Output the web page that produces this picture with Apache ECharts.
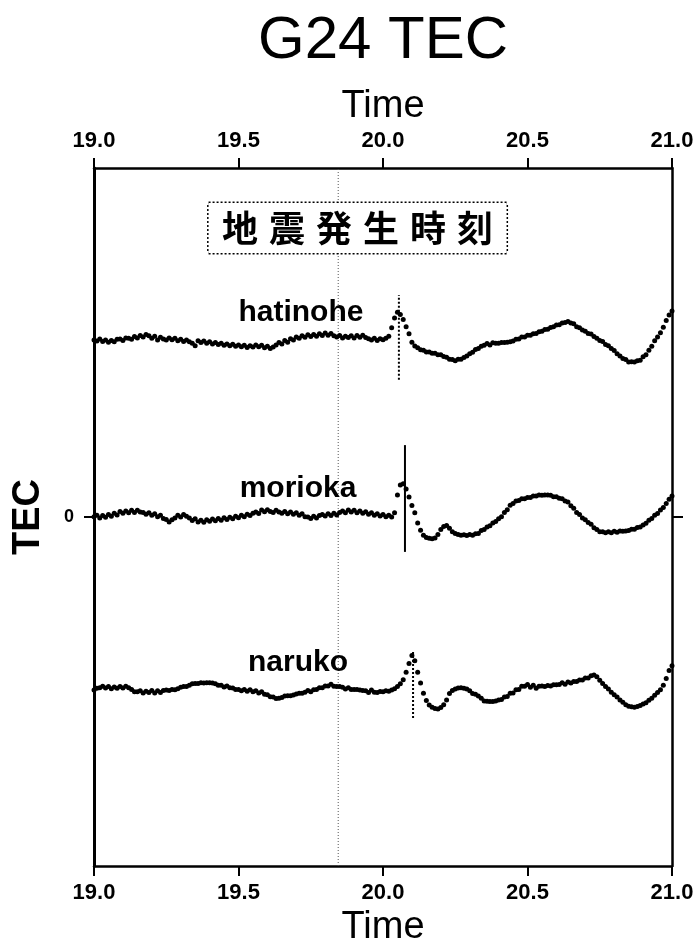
<!DOCTYPE html>
<html><head><meta charset="utf-8">
<script src="https://cdn.jsdelivr.net/npm/echarts@6/dist/echarts.min.js"></script>
<style>html,body{margin:0;padding:0;background:#fff}#c{width:697px;height:941px}</style>
</head><body><div id="c"></div>
<script>
const times = [
19.00,19.01,19.02,19.03,19.04,19.05,19.06,19.07,19.08,19.09,
19.10,19.11,19.12,19.13,19.14,19.15,19.16,19.17,19.18,19.19,
19.20,19.21,19.22,19.23,19.24,19.25,19.26,19.27,19.28,19.29,
19.30,19.31,19.32,19.33,19.34,19.35,19.36,19.37,19.38,19.39,
19.40,19.41,19.42,19.43,19.44,19.45,19.46,19.47,19.48,19.49,
19.50,19.51,19.52,19.53,19.54,19.55,19.56,19.57,19.58,19.59,
19.60,19.61,19.62,19.63,19.64,19.65,19.66,19.67,19.68,19.69,
19.70,19.71,19.72,19.73,19.74,19.75,19.76,19.77,19.78,19.79,
19.80,19.81,19.82,19.83,19.84,19.85,19.86,19.87,19.88,19.89,
19.90,19.91,19.92,19.93,19.94,19.95,19.96,19.97,19.98,19.99,
20.00,20.01,20.02,20.03,20.04,20.05,20.06,20.07,20.08,20.09,
20.10,20.11,20.12,20.13,20.14,20.15,20.16,20.17,20.18,20.19,
20.20,20.21,20.22,20.23,20.24,20.25,20.26,20.27,20.28,20.29,
20.30,20.31,20.32,20.33,20.34,20.35,20.36,20.37,20.38,20.39,
20.40,20.41,20.42,20.43,20.44,20.45,20.46,20.47,20.48,20.49,
20.50,20.51,20.52,20.53,20.54,20.55,20.56,20.57,20.58,20.59,
20.60,20.61,20.62,20.63,20.64,20.65,20.66,20.67,20.68,20.69,
20.70,20.71,20.72,20.73,20.74,20.75,20.76,20.77,20.78,20.79,
20.80,20.81,20.82,20.83,20.84,20.85,20.86,20.87,20.88,20.89,
20.90,20.91,20.92,20.93,20.94,20.95,20.96,20.97,20.98,20.99,
21.00];

const hatinohe = [
5.07,5.04,5.10,5.03,5.07,5.01,5.06,5.02,5.09,5.10,
5.06,5.13,5.12,5.09,5.17,5.13,5.20,5.16,5.23,5.19,
5.12,5.18,5.07,5.15,5.10,5.07,5.13,5.08,5.12,5.05,
5.09,5.03,5.07,5.02,4.98,4.91,5.05,5.00,5.04,4.98,
5.02,4.96,5.00,4.94,4.98,4.92,4.96,4.91,4.95,4.89,
4.93,4.88,4.92,4.86,4.91,4.87,4.93,4.88,4.92,4.85,
4.89,4.83,4.87,4.93,5.00,4.96,5.06,5.01,5.11,5.07,
5.16,5.12,5.19,5.15,5.22,5.17,5.23,5.18,5.25,5.20,
5.27,5.21,5.26,5.19,5.16,5.20,5.13,5.18,5.14,5.19,
5.13,5.20,5.15,5.21,5.14,5.11,5.07,5.12,5.06,5.11,
5.08,5.12,5.18,5.42,5.70,5.87,5.80,5.66,5.45,5.25,
5.01,4.90,4.85,4.79,4.78,4.73,4.73,4.69,4.69,4.65,
4.65,4.60,4.58,4.52,4.51,4.48,4.52,4.52,4.57,4.61,
4.68,4.72,4.80,4.83,4.89,4.92,4.97,4.93,4.99,4.98,
4.98,5.00,5.00,5.01,5.02,5.04,5.09,5.10,5.16,5.16,
5.21,5.21,5.25,5.26,5.31,5.32,5.37,5.38,5.43,5.45,
5.50,5.51,5.56,5.57,5.60,5.56,5.54,5.45,5.42,5.36,
5.32,5.26,5.24,5.17,5.12,5.06,5.03,4.94,4.91,4.83,
4.77,4.68,4.61,4.54,4.51,4.44,4.45,4.44,4.48,4.49,
4.59,4.65,4.78,4.89,5.05,5.16,5.28,5.44,5.63,5.79,
5.90];

const morioka = [
0.01,0.05,-0.03,0.04,-0.01,0.07,0.02,0.11,0.06,0.16,
0.11,0.17,0.12,0.19,0.13,0.19,0.14,0.13,0.08,0.12,
0.05,0.09,0.01,0.05,-0.04,-0.07,-0.14,-0.08,-0.03,0.05,
0.00,0.07,0.02,-0.03,-0.10,-0.05,-0.14,-0.09,-0.15,-0.08,
-0.12,-0.06,-0.11,-0.04,-0.09,-0.02,-0.07,-0.01,-0.05,0.02,
-0.02,0.05,0.01,0.08,0.04,0.11,0.14,0.10,0.20,0.15,
0.21,0.16,0.13,0.19,0.14,0.11,0.16,0.09,0.14,0.08,
0.12,0.05,0.09,0.01,0.00,-0.04,0.02,-0.03,0.04,0.07,
0.03,0.09,0.04,0.11,0.06,0.13,0.17,0.12,0.20,0.14,
0.19,0.12,0.17,0.11,0.15,0.08,0.12,0.05,0.09,0.03,
0.07,0.01,0.05,0.00,0.12,0.63,0.92,0.95,0.80,0.57,
0.33,0.12,-0.17,-0.38,-0.52,-0.59,-0.61,-0.62,-0.60,-0.50,
-0.36,-0.27,-0.24,-0.32,-0.42,-0.47,-0.50,-0.52,-0.51,-0.53,
-0.50,-0.52,-0.48,-0.47,-0.39,-0.36,-0.29,-0.25,-0.17,-0.13,
-0.05,0.01,0.13,0.21,0.34,0.39,0.46,0.47,0.52,0.52,
0.56,0.56,0.60,0.60,0.63,0.62,0.63,0.63,0.62,0.58,
0.58,0.54,0.52,0.46,0.43,0.32,0.25,0.13,0.07,-0.03,
-0.08,-0.16,-0.21,-0.31,-0.36,-0.42,-0.42,-0.45,-0.42,-0.45,
-0.41,-0.44,-0.40,-0.41,-0.40,-0.39,-0.35,-0.35,-0.30,-0.29,
-0.23,-0.18,-0.09,-0.04,0.05,0.10,0.20,0.27,0.39,0.51,
0.60];

const naruko = [
-4.96,-4.91,-4.89,-4.85,-4.90,-4.86,-4.92,-4.87,-4.91,-4.86,
-4.90,-4.85,-4.89,-4.94,-5.01,-5.01,-4.98,-5.04,-4.99,-5.03,
-4.97,-5.04,-4.98,-5.03,-4.97,-4.96,-4.97,-4.94,-4.95,-4.92,
-4.88,-4.86,-4.86,-4.82,-4.78,-4.77,-4.77,-4.75,-4.76,-4.75,
-4.75,-4.76,-4.78,-4.82,-4.82,-4.87,-4.84,-4.89,-4.90,-4.94,
-4.94,-4.98,-4.94,-4.99,-4.95,-5.01,-4.98,-5.04,-5.01,-5.08,
-5.09,-5.15,-5.16,-5.20,-5.19,-5.17,-5.13,-5.12,-5.12,-5.10,
-5.07,-5.05,-5.05,-5.02,-4.97,-5.01,-4.95,-4.94,-4.89,-4.89,
-4.84,-4.84,-4.79,-4.85,-4.86,-4.86,-4.88,-4.93,-4.89,-4.94,
-4.94,-4.94,-4.96,-4.97,-4.98,-5.03,-4.96,-5.02,-5.03,-5.00,
-5.01,-4.98,-4.99,-4.96,-4.92,-4.86,-4.78,-4.66,-4.45,-4.20,
-3.97,-4.12,-4.45,-4.76,-5.05,-5.26,-5.39,-5.45,-5.49,-5.50,
-5.46,-5.38,-5.24,-5.06,-4.97,-4.93,-4.90,-4.89,-4.91,-4.93,
-4.98,-5.06,-5.08,-5.13,-5.19,-5.27,-5.28,-5.29,-5.29,-5.27,
-5.24,-5.23,-5.16,-5.14,-5.05,-5.04,-4.95,-4.94,-4.85,-4.85,
-4.80,-4.88,-4.82,-4.91,-4.85,-4.84,-4.86,-4.83,-4.84,-4.81,
-4.81,-4.80,-4.75,-4.79,-4.73,-4.76,-4.71,-4.71,-4.67,-4.67,
-4.61,-4.61,-4.55,-4.53,-4.58,-4.68,-4.77,-4.86,-4.93,-5.02,
-5.09,-5.16,-5.24,-5.31,-5.38,-5.42,-5.44,-5.45,-5.43,-5.40,
-5.36,-5.32,-5.25,-5.19,-5.11,-5.03,-4.95,-4.82,-4.63,-4.40,
-4.26];

const stationNames = ['hatinohe', 'morioka', 'naruko'];
const tickLabels = ['19.0', '19.5', '20.0', '20.5', '21.0'];
const quakeTime = 19.845;
const markerTimes = [20.055, 20.076, 20.104];
const markerLow = [3.93, -1.00, -5.76];
const markerHigh = [6.36, 2.06, -3.87];
const boxText = '地震発生時刻';
const titleText = 'G24 TEC';

const FONT = '"Liberation Sans", Arial, sans-serif';
const chart = echarts.init(document.getElementById('c'), null, {renderer: 'canvas'});

const seriesData = [hatinohe, morioka, naruko];
const markerStyles = [[2, 2], 'solid', [2, 2]];

const xAxisBase = (pos, gap) => ({
  type: 'value', position: pos, min: 19, max: 21, interval: 0.5,
  name: 'Time', nameLocation: 'middle', nameGap: gap,
  nameTextStyle: {fontFamily: FONT, fontSize: 38, color: '#000'},
  axisLine: {show: true, onZero: false, lineStyle: {color: '#000', width: 2.5}},
  axisTick: {show: true, inside: false, length: 10, lineStyle: {color: '#000', width: 2}},
  axisLabel: {show: true, margin: 16, fontFamily: FONT, fontWeight: 'bold', fontSize: 22, color: '#000',
    formatter: v => tickLabels[Math.round((v - 19) / 0.5)]},
  splitLine: {show: false}
});

const option = {
  backgroundColor: '#fff',
  animation: false,
  grid: {left: 94, right: 25, top: 168, bottom: 75, containLabel: false, outerBoundsMode: 'none'},
  xAxis: [xAxisBase('bottom', 37), xAxisBase('top', 42)],
  yAxis: [
    {type: 'value', position: 'left', min: -10, max: 10,
     name: 'TEC', nameLocation: 'middle', nameGap: 46, nameRotate: 90,
     nameTextStyle: {fontFamily: FONT, fontSize: 38, fontWeight: 'bold', color: '#000'},
     axisLine: {show: true, onZero: false, lineStyle: {color: '#000', width: 3}},
     axisTick: {show: true, length: 10, customValues: [0], lineStyle: {color: '#000', width: 2}},
     axisLabel: {show: true, margin: 20, customValues: [0], fontFamily: FONT, fontWeight: 'bold', fontSize: 18, color: '#000'},
     splitLine: {show: false}},
    {type: 'value', position: 'right', min: -10, max: 10,
     axisLine: {show: true, onZero: false, lineStyle: {color: '#000', width: 2.5}},
     axisTick: {show: true, length: 11, customValues: [0], lineStyle: {color: '#000', width: 2}},
     axisLabel: {show: false},
     splitLine: {show: false}}
  ],
  graphic: [{
    type: 'text', x: 383, y: 41, z: 10,
    style: {text: titleText, fontFamily: FONT, fontSize: 60, fill: '#000',
      align: 'center', verticalAlign: 'middle'}
  }],
  series: []
};

// earthquake time line
option.series.push({
  type: 'line', xAxisIndex: 0, yAxisIndex: 0, symbol: 'none', silent: true, z: 1,
  data: [[quakeTime, -10], [quakeTime, 10]],
  lineStyle: {color: '#555', width: 1, type: [1, 2]}
});

seriesData.forEach((vals, k) => {
  option.series.push({
    name: stationNames[k], type: 'scatter', xAxisIndex: 0, yAxisIndex: 0,
    symbol: 'circle', symbolSize: 5, silent: true, z: 3,
    itemStyle: {color: '#000', opacity: 1},
    data: times.map((t, i) => [t, vals[i]])
  });
  option.series.push({
    type: 'line', xAxisIndex: 0, yAxisIndex: 0, symbol: 'none', silent: true, z: 4,
    data: [[markerTimes[k], markerLow[k]], [markerTimes[k], markerHigh[k]]],
    lineStyle: {color: '#000', width: 2, type: markerStyles[k]}
  });
});

// station labels
option.series.push({
  type: 'scatter', xAxisIndex: 0, yAxisIndex: 0, symbolSize: 0, silent: true, z: 5,
  itemStyle: {opacity: 0},
  data: [
    {name: stationNames[0], value: [19.716, 5.85]},
    {name: stationNames[1], value: [19.706, 0.80]},
    {name: stationNames[2], value: [19.706, -4.18]}
  ],
  label: {show: true, position: 'inside', formatter: '{b}', fontFamily: FONT, fontWeight: 'bold',
    fontSize: 30, color: '#000', opacity: 1, textBorderWidth: 0}
});

// boxed annotation
option.series.push({
  type: 'scatter', xAxisIndex: 0, yAxisIndex: 0, symbolSize: 0, silent: true, z: 6,
  itemStyle: {opacity: 0},
  data: [{name: boxText, value: [19.912, 8.28]}],
  label: {
    show: true, position: 'inside', opacity: 1,
    formatter: boxText.split('').map(c => '{c|' + c + '}').join(''),
    backgroundColor: '#fff', borderColor: '#000', borderWidth: 1.5, borderType: [2, 2],
    padding: [6, 8, 6, 8],
    rich: {c: {width: 47, align: 'center', fontSize: 36, lineHeight: 38, fontWeight: 'bold',
      fontFamily: '"Noto Sans CJK JP", sans-serif', color: '#000'}}
  }
});

chart.setOption(option);
</script>
</body></html>
